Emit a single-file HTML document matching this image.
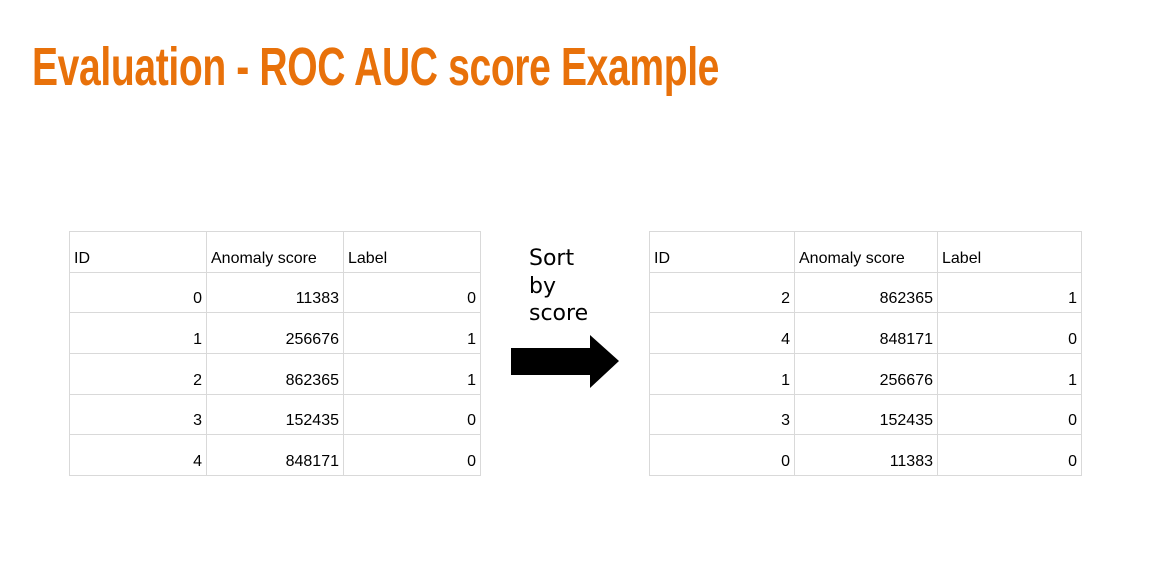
<!DOCTYPE html>
<html><head><style>
body{margin:0;width:1154px;height:587px;background:#fff;position:relative;overflow:hidden;font-family:"Liberation Sans",sans-serif}
.title{position:absolute;left:32px;top:36px;font-size:54px;font-weight:bold;color:#E8710A;transform:scaleX(0.723);transform-origin:0 0;white-space:nowrap;letter-spacing:-0.5px}
table{position:absolute;border-collapse:collapse;top:231px;table-layout:fixed}
tr{height:40.7px}
td{border:1.5px solid #d9d9d9;height:40.7px;padding:0 4px;font-size:16px;color:#000;text-align:right;vertical-align:bottom;padding-bottom:4px;box-sizing:border-box}
tr:first-child td{text-align:left}
.sort{position:absolute;left:529px;top:245px;font-size:22px;line-height:27.5px;color:#000;font-family:"DejaVu Sans",sans-serif}
</style></head><body>
<div class="title">Evaluation - ROC AUC score Example</div>
<table style="left:69px;width:411px">
<colgroup><col style="width:137px"><col style="width:137px"><col style="width:137px"></colgroup>
<tr><td>ID</td><td>Anomaly score</td><td>Label</td></tr>
<tr><td>0</td><td>11383</td><td>0</td></tr>
<tr><td>1</td><td>256676</td><td>1</td></tr>
<tr><td>2</td><td>862365</td><td>1</td></tr>
<tr><td>3</td><td>152435</td><td>0</td></tr>
<tr><td>4</td><td>848171</td><td>0</td></tr>
</table>
<div class="sort">Sort<br>by<br>score</div>
<svg style="position:absolute;left:0;top:0" width="1154" height="587"><polygon points="511,348 590,348 590,335 619,361 590,388 590,375 511,375" fill="#000"/></svg>
<table style="left:649px;width:432px">
<colgroup><col style="width:145px"><col style="width:143px"><col style="width:144px"></colgroup>
<tr><td>ID</td><td>Anomaly score</td><td>Label</td></tr>
<tr><td>2</td><td>862365</td><td>1</td></tr>
<tr><td>4</td><td>848171</td><td>0</td></tr>
<tr><td>1</td><td>256676</td><td>1</td></tr>
<tr><td>3</td><td>152435</td><td>0</td></tr>
<tr><td>0</td><td>11383</td><td>0</td></tr>
</table>
</body></html>
